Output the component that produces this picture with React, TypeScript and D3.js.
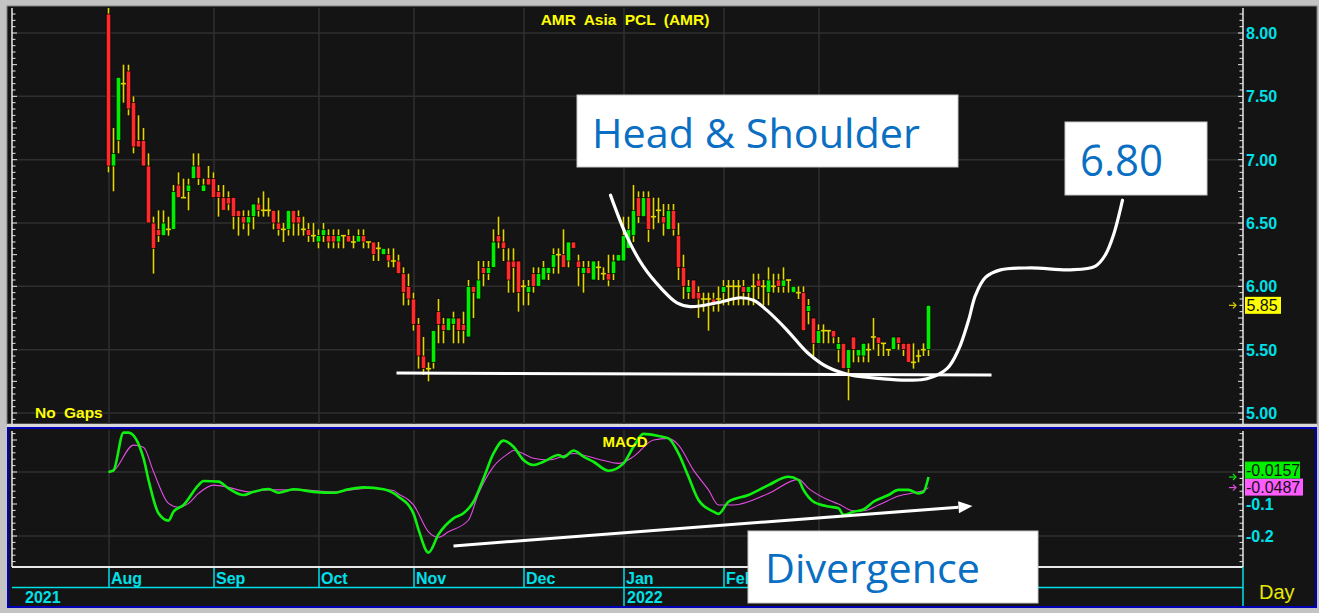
import React from 'react';
import * as d3 from 'd3';

const W = 1319;
const H = 613;

// Daily OHLC, AMR Asia PCL, Aug 2021 – Mar 2022 (165 sessions)
const opens = [
  8.15, 6.95, 7.15, 7.6, 7.7, 7.45, 7.15, 7.15, 6.95, 6.5,
  6.45, 6.4, 6.45, 6.45, 6.8, 6.7, 6.75, 6.85, 6.95, 6.75,
  6.85, 6.85, 6.75, 6.7, 6.7, 6.7, 6.6, 6.55, 6.5, 6.55,
  6.65, 6.6, 6.6, 6.6, 6.5, 6.45, 6.45, 6.6, 6.55, 6.45,
  6.45, 6.4, 6.35, 6.4, 6.4, 6.4, 6.35, 6.4, 6.4, 6.35,
  6.35, 6.4, 6.35, 6.35, 6.3, 6.25, 6.25, 6.2, 6.2, 6.1,
  6.0, 5.9, 5.7, 5.45, 5.35, 5.4, 5.8, 5.7, 5.65, 5.7,
  5.75, 5.7, 5.6, 6.0, 5.9, 6.15, 6.1, 6.15, 6.4, 6.35,
  6.2, 6.2, 6.2, 6.0, 5.95, 6.1, 6.0, 6.05, 6.1, 6.15,
  6.25, 6.25, 6.2, 6.35, 6.2, 6.1, 6.15, 6.05, 6.15, 6.1,
  6.1, 6.1, 6.2, 6.2, 6.3, 6.4, 6.7, 6.55, 6.7, 6.55,
  6.6, 6.55, 6.45, 6.6, 6.4, 6.15, 5.95, 6.05, 5.95, 5.9,
  5.9, 5.9, 5.9, 5.95, 6.0, 6.0, 6.0, 6.0, 5.95, 6.0,
  6.05, 6.0, 5.95, 6.0, 6.05, 6.0, 6.05, 5.95, 5.95, 5.95,
  5.8, 5.75, 5.55, 5.65, 5.65, 5.65, 5.5, 5.55, 5.35, 5.6,
  5.45, 5.45, 5.5, 5.6, 5.6, 5.55, 5.5, 5.5, 5.6, 5.55,
  5.55, 5.4, 5.45, 5.5, 5.5,
];
const highs = [
  8.2, 7.25, 7.65, 7.75, 7.75, 7.5, 7.35, 7.25, 7.05, 6.55,
  6.6, 6.6, 6.55, 6.8, 6.9, 6.85, 6.85, 7.05, 7.05, 6.85,
  6.95, 6.9, 6.8, 6.8, 6.75, 6.7, 6.6, 6.6, 6.6, 6.65,
  6.7, 6.75, 6.7, 6.6, 6.6, 6.5, 6.6, 6.6, 6.6, 6.55,
  6.5, 6.5, 6.45, 6.5, 6.45, 6.45, 6.45, 6.4, 6.45, 6.4,
  6.45, 6.45, 6.35, 6.35, 6.35, 6.3, 6.3, 6.3, 6.25, 6.15,
  6.1, 5.95, 5.75, 5.6, 5.4, 5.65, 5.9, 5.75, 5.75, 5.8,
  5.75, 5.8, 6.05, 6.0, 6.2, 6.2, 6.2, 6.45, 6.55, 6.45,
  6.3, 6.3, 6.2, 6.05, 6.05, 6.15, 6.15, 6.2, 6.15, 6.3,
  6.3, 6.45, 6.35, 6.35, 6.25, 6.2, 6.2, 6.2, 6.2, 6.15,
  6.25, 6.25, 6.25, 6.55, 6.55, 6.8, 6.75, 6.75, 6.75, 6.7,
  6.7, 6.65, 6.65, 6.65, 6.5, 6.25, 6.05, 6.05, 6.0, 5.95,
  5.95, 5.95, 6.0, 6.05, 6.05, 6.05, 6.05, 6.05, 6.0, 6.1,
  6.1, 6.05, 6.15, 6.1, 6.1, 6.15, 6.05, 6.0, 6.0, 6.0,
  5.9, 5.75, 5.7, 5.7, 5.65, 5.65, 5.6, 5.55, 5.5, 5.6,
  5.5, 5.55, 5.55, 5.75, 5.6, 5.55, 5.5, 5.6, 5.6, 5.55,
  5.55, 5.55, 5.5, 5.55, 5.85,
];
const lows = [
  6.9, 6.75, 7.05, 7.45, 7.35, 7.05, 7.1, 6.95, 6.5, 6.1,
  6.35, 6.4, 6.4, 6.45, 6.7, 6.7, 6.6, 6.85, 6.8, 6.75,
  6.8, 6.7, 6.55, 6.6, 6.6, 6.45, 6.4, 6.45, 6.4, 6.45,
  6.55, 6.55, 6.55, 6.45, 6.4, 6.35, 6.4, 6.4, 6.4, 6.4,
  6.35, 6.35, 6.3, 6.35, 6.3, 6.3, 6.3, 6.3, 6.35, 6.3,
  6.35, 6.3, 6.3, 6.2, 6.2, 6.25, 6.15, 6.15, 6.1, 5.85,
  5.85, 5.65, 5.35, 5.3, 5.25, 5.35, 5.55, 5.55, 5.65, 5.55,
  5.55, 5.55, 5.6, 5.75, 5.9, 6.0, 6.05, 6.15, 6.3, 6.2,
  5.95, 5.95, 5.8, 5.85, 5.85, 5.95, 6.0, 6.05, 6.05, 6.1,
  6.1, 6.15, 6.15, 6.3, 6.0, 5.95, 6.1, 6.05, 6.05, 6.05,
  6.0, 6.05, 6.2, 6.2, 6.3, 6.35, 6.5, 6.55, 6.35, 6.45,
  6.5, 6.4, 6.45, 6.4, 6.05, 5.9, 5.9, 5.9, 5.75, 5.8,
  5.65, 5.8, 5.8, 5.85, 5.85, 5.85, 5.85, 5.85, 5.85, 5.85,
  5.9, 5.85, 5.85, 5.95, 5.95, 5.95, 5.95, 5.95, 5.9, 5.65,
  5.7, 5.45, 5.55, 5.55, 5.55, 5.55, 5.4, 5.35, 5.1, 5.4,
  5.4, 5.4, 5.4, 5.5, 5.45, 5.45, 5.45, 5.5, 5.5, 5.45,
  5.4, 5.35, 5.4, 5.45, 5.45,
];
const closes = [
  6.95, 7.05, 7.65, 7.6, 7.4, 7.1, 7.1, 6.95, 6.5, 6.3,
  6.4, 6.5, 6.45, 6.75, 6.7, 6.7, 6.8, 6.95, 6.85, 6.8,
  6.8, 6.7, 6.7, 6.6, 6.65, 6.55, 6.55, 6.5, 6.55, 6.65,
  6.6, 6.6, 6.6, 6.5, 6.45, 6.45, 6.6, 6.5, 6.5, 6.45,
  6.4, 6.4, 6.4, 6.45, 6.35, 6.35, 6.4, 6.4, 6.35, 6.35,
  6.4, 6.35, 6.35, 6.25, 6.3, 6.3, 6.2, 6.2, 6.1, 5.95,
  5.9, 5.7, 5.45, 5.35, 5.35, 5.65, 5.7, 5.65, 5.75, 5.75,
  5.65, 5.65, 6.0, 5.95, 6.05, 6.1, 6.15, 6.35, 6.35, 6.3,
  6.05, 6.15, 5.95, 6.0, 6.0, 6.0, 6.1, 6.15, 6.15, 6.25,
  6.25, 6.15, 6.35, 6.3, 6.15, 6.15, 6.1, 6.2, 6.15, 6.1,
  6.05, 6.2, 6.25, 6.4, 6.45, 6.6, 6.55, 6.7, 6.45, 6.55,
  6.6, 6.5, 6.6, 6.45, 6.15, 6.0, 6.0, 5.9, 5.9, 5.9,
  5.9, 5.85, 5.9, 6.0, 6.0, 6.0, 6.0, 5.95, 6.0, 6.0,
  6.0, 6.0, 6.05, 6.0, 6.0, 6.05, 6.05, 6.0, 5.95, 5.65,
  5.85, 5.55, 5.65, 5.65, 5.65, 5.6, 5.55, 5.35, 5.5, 5.5,
  5.5, 5.55, 5.5, 5.6, 5.55, 5.55, 5.5, 5.6, 5.55, 5.5,
  5.4, 5.4, 5.45, 5.5, 5.85,
];

// MACD (12,26) and its 9-period signal, read at session indices
const macdIdx = [0, 1, 3, 4, 7, 8, 10, 12, 13, 15, 18, 19, 22, 24, 27, 29, 32, 34, 37, 41, 45, 48, 51, 55, 58, 61, 62, 64, 66, 69, 71, 73, 75, 77, 79, 81, 83, 85, 87, 90, 91, 93, 95, 97, 100, 103, 105, 107, 110, 112, 114, 116, 118, 121, 122, 124, 128, 132, 136, 138, 139, 141, 142, 144, 146, 147, 149, 151, 153, 156, 158, 160, 162, 163, 164];
const macdVals = [0, 0.005, 0.123, 0.123, 0.043, -0.025, -0.129, -0.152, -0.124, -0.103, -0.041, -0.028, -0.03, -0.051, -0.072, -0.062, -0.053, -0.065, -0.054, -0.062, -0.065, -0.054, -0.048, -0.054, -0.077, -0.13, -0.18, -0.252, -0.195, -0.145, -0.129, -0.093, -0.02, 0.058, 0.098, 0.079, 0.0375, 0.022, 0.032, 0.053, 0.046, 0.067, 0.048, 0.032, 0.004, 0.027, 0.079, 0.119, 0.1125, 0.105, 0.058, -0.015, -0.0875, -0.124, -0.131, -0.093, -0.072, -0.041, -0.015, -0.025, -0.056, -0.093, -0.1, -0.108, -0.113, -0.134, -0.124, -0.117, -0.093, -0.072, -0.056, -0.056, -0.067, -0.062, -0.0157];
const signalIdx = [0, 1, 5, 7, 9, 12, 14, 16, 18, 21, 24, 28, 32, 38, 45, 52, 57, 58, 60, 61, 64, 66, 68, 72, 74, 77, 80, 81, 85, 88, 93, 98, 102, 105, 109, 112, 114, 117, 120, 122, 125, 132, 138, 140, 144, 146, 149, 151, 154, 158, 162, 163, 164];
const signalVals = [0, 0.004, 0.084, 0.077, 0.001, -0.098, -0.11, -0.098, -0.067, -0.041, -0.048, -0.062, -0.056, -0.056, -0.062, -0.051, -0.058, -0.069, -0.0875, -0.103, -0.187, -0.204, -0.187, -0.15, -0.067, 0.017, 0.058, 0.067, 0.043, 0.0375, 0.058, 0.04, 0.027, 0.048, 0.1, 0.105, 0.084, 0.006, -0.056, -0.103, -0.103, -0.067, -0.023, -0.051, -0.0875, -0.1, -0.121, -0.121, -0.103, -0.075, -0.062, -0.058, -0.0487];

// Time axis: month gridlines; labels for the months left uncovered by the callout
const monthStarts = [0, 21, 42, 61, 83, 103, 123, 142];
const monthLabels = ['Aug', 'Sep', 'Oct', 'Nov', 'Dec', 'Jan', 'Feb'];
const yearLabels = ['2021', '2022'];

// Value axes
const priceTicks = [5.0, 5.5, 6.0, 6.5, 7.0, 7.5, 8.0];
const macdTickLabels = [-0.1, -0.2];
const macdGrid = [0, -0.2];

// Hand-drawn pattern sketch (session index, price)
const necklinePts: [number, number][] = [[57.6, 5.315], [176.6, 5.3]];
const patternPts: [number, number][] = [
  [100.4, 6.72], [103.7, 6.39], [107, 6.155], [110.4, 5.99], [113.7, 5.87], [116.4, 5.84],
  [121.7, 5.87], [126.4, 5.91], [129, 5.89], [131.7, 5.81], [135.7, 5.655], [139.7, 5.48],
  [143.7, 5.365], [148.4, 5.3], [155, 5.27], [159.7, 5.26], [163.7, 5.27], [167.7, 5.35],
  [170, 5.5], [172, 5.73], [173.4, 5.93], [175.4, 6.07], [178.4, 6.13], [184.4, 6.145],
  [192.4, 6.13], [197.4, 6.16], [199.4, 6.25], [201, 6.405], [202.8, 6.68],
];
// Divergence arrow in MACD space (session index, value)
const divergencePts: [number, number][] = [[69, -0.231], [172.8, -0.1065]];

const RED = '#ff2a2a';
const GREEN = '#00ee00';
const WICK = '#e2d600';
const CYAN = '#00e0e8';
const YELLOW = '#ffff00';
const BG = '#141414';
const GRID = '#2f2f2f';
const AXIS_FONT = '"Liberation Sans", Arial, sans-serif';
const NOTE_FONT = '"Open Sans", "Noto Sans", sans-serif';
const NOTE_BLUE = '#0a6fc2';

const x = d3.scaleLinear().domain([0, 164]).range([108.5, 928.5]);
const yP = d3.scaleLinear().domain([5, 8]).range([413, 33]);
const yM = d3.scaleLinear().domain([-0.2, 0]).range([536, 472]);

const AXIS_L = 12;
const AXIS_R = 1243;

export default function App() {
  const macdData = macdIdx.map((i, k) => [i, macdVals[k]] as [number, number]);
  const signalData = signalIdx.map((i, k) => [i, signalVals[k]] as [number, number]);
  const mLine = d3.line<[number, number]>().x(d => x(d[0])).y(d => yM(d[1])).curve(d3.curveMonotoneX);
  const pLine = d3.line<[number, number]>().x(d => x(d[0])).y(d => yP(d[1])).curve(d3.curveCatmullRom.alpha(0.5));
  const straight = d3.line<[number, number]>().x(d => x(d[0])).y(d => yP(d[1]));

  const gridXs = monthStarts.map(i => x(i) + 0.5);

  // minor ticks
  const priceMinor = d3.range(98, 165).map(k => +(k * 0.05).toFixed(2)).filter(v => yP(v) >= 8 && yP(v) <= 423);
  const macdMinor = d3.range(-15, 7).map(k => +(k * 0.02).toFixed(2)).filter(v => yM(v) >= 431 && yM(v) <= 566);

  const last = closes.length - 1;
  const lastClose = closes[last];
  const lastMacd = macdVals[macdVals.length - 1];
  const lastSignal = signalVals[signalVals.length - 1];

  const sigBoxY = yM(lastSignal) - 9;
  const macdBoxY = sigBoxY - 17;

  const [a0, a1] = divergencePts;
  const ax0 = x(a0[0]), ay0 = yM(a0[1]), ax1 = x(a1[0]), ay1 = yM(a1[1]);
  const ang = Math.atan2(ay1 - ay0, ax1 - ax0);
  const headLen = 14, headW = 6;
  const bx = ax1 - headLen * Math.cos(ang), by = ay1 - headLen * Math.sin(ang);
  const head = `M${ax1},${ay1} L${bx - headW * Math.sin(ang)},${by + headW * Math.cos(ang)} L${bx + headW * Math.sin(ang)},${by - headW * Math.cos(ang)} Z`;

  const arrow = (xx: number, yy: number, color: string) => (
    <g stroke={color} strokeWidth={1.2} fill="none">
      <line x1={xx - 6} x2={xx + 1} y1={yy} y2={yy} />
      <polyline points={`${xx - 2},${yy - 3} ${xx + 1},${yy} ${xx - 2},${yy + 3}`} />
    </g>
  );

  return (
    <svg width={W} height={H} style={{ position: 'absolute', left: 0, top: 0, display: 'block' }}>
      <defs>
        <clipPath id="pricePlot"><rect x={AXIS_L} y={8} width={AXIS_R - AXIS_L} height={416} /></clipPath>
        <clipPath id="macdPlot"><rect x={AXIS_L} y={430} width={AXIS_R - AXIS_L} height={137} /></clipPath>
      </defs>
      <rect x={0} y={0} width={W} height={H} fill="#c3c3c3" />

      {/* price panel */}
      <rect x={7} y={6} width={1310} height={418} fill={BG} stroke="#808080" strokeWidth={1} />
      <g stroke={GRID} strokeWidth={1.5}>
        {priceTicks.map(v => <line key={v} x1={AXIS_L} x2={AXIS_R} y1={yP(v)} y2={yP(v)} />)}
        {gridXs.map((gx, k) => <line key={k} x1={gx} x2={gx} y1={8} y2={424} />)}
      </g>
      <g clipPath="url(#pricePlot)">
        {closes.map((c, i) => {
          const o = opens[i];
          const cx = x(i);
          const top = yP(Math.max(o, c));
          const bot = yP(Math.min(o, c));
          return (
            <g key={i}>
              <line x1={cx} x2={cx} y1={yP(highs[i])} y2={yP(lows[i])} stroke="#000" strokeWidth={3.4} />
              <line x1={cx} x2={cx} y1={yP(highs[i])} y2={yP(lows[i])} stroke={WICK} strokeWidth={1.7} />
              {o === c ? (
                <line x1={cx - 2.6} x2={cx + 2.6} y1={top} y2={top} stroke={WICK} strokeWidth={1.6} />
              ) : (
                <rect x={cx - 2.3} y={top} width={4.6} height={Math.max(1, bot - top)} fill={c > o ? GREEN : RED} stroke="#000" strokeWidth={0.7} />
              )}
            </g>
          );
        })}
        <path d={straight(necklinePts) || ''} stroke="#fff" strokeWidth={3} fill="none" />
      </g>
      <path d={pLine(patternPts) || ''} stroke="#fff" strokeWidth={3.2} fill="none" strokeLinecap="round" />

      {/* price axes */}
      <g stroke="#e8e8e8" strokeWidth={1}>
        <line x1={AXIS_L} x2={AXIS_L} y1={8} y2={424} strokeWidth={1.5} />
        <line x1={AXIS_R} x2={AXIS_R} y1={8} y2={424} strokeWidth={1.5} />
        {priceMinor.map(v => {
          const major = Math.abs(v * 4 - Math.round(v * 4)) < 1e-6;
          return (
            <g key={v}>
              <line x1={AXIS_L} x2={AXIS_L + (major ? 5 : 3.5)} y1={yP(v)} y2={yP(v)} />
              <line x1={AXIS_R - (major ? 5 : 3.5)} x2={AXIS_R} y1={yP(v)} y2={yP(v)} />
            </g>
          );
        })}
      </g>
      <g fontFamily={AXIS_FONT} fontWeight="bold" fontSize={16} fill={CYAN}>
        {priceTicks.map(v => (
          <text key={v} x={AXIS_R + 3} y={yP(v) + 6}>{v.toFixed(2)}</text>
        ))}
      </g>
      <rect x={AXIS_R + 2} y={yP(lastClose) - 8.5} width={36} height={17} fill={YELLOW} />
      <text x={AXIS_R + 3.5} y={yP(lastClose) + 6} fontFamily={AXIS_FONT} fontSize={16} fill="#111">{lastClose.toFixed(2)}</text>
      {arrow(AXIS_R - 8, yP(lastClose), '#e0d000')}

      <text x={625} y={25} textAnchor="middle" fontFamily={AXIS_FONT} fontWeight="bold" fontSize={15.5} wordSpacing={4} fill={YELLOW}>AMR Asia PCL (AMR)</text>
      <text x={35} y={418} fontFamily={AXIS_FONT} fontWeight="bold" fontSize={15.5} wordSpacing={4} fill={YELLOW}>No Gaps</text>

      {/* separator */}
      <rect x={7} y={424} width={1310} height={3} fill="#d8d8d8" />

      {/* MACD panel */}
      <rect x={8} y={428} width={1308} height={179} fill={BG} stroke="#0000b8" strokeWidth={2} />
      <g stroke={GRID} strokeWidth={1.5}>
        {macdGrid.map(v => <line key={v} x1={AXIS_L} x2={AXIS_R} y1={yM(v)} y2={yM(v)} />)}
        {gridXs.map((gx, k) => <line key={k} x1={gx} x2={gx} y1={430} y2={567} />)}
      </g>
      <g clipPath="url(#macdPlot)">
        <path d={mLine(signalData) || ''} stroke="#e24ce2" strokeWidth={1.1} fill="none" />
        <path d={mLine(macdData) || ''} stroke="#10f010" strokeWidth={2.6} fill="none" strokeLinejoin="round" />
      </g>
      <text x={625} y={447} textAnchor="middle" fontFamily={AXIS_FONT} fontWeight="bold" fontSize={15} fill={YELLOW}>MACD</text>
      <g stroke="#e8e8e8" strokeWidth={1}>
        <line x1={AXIS_L} x2={AXIS_L} y1={431} y2={567} strokeWidth={1.5} />
        <line x1={AXIS_R} x2={AXIS_R} y1={431} y2={567} strokeWidth={1.5} />
        {macdMinor.map(v => {
          const major = Math.abs(v * 10 - Math.round(v * 10)) < 1e-6;
          return (
            <g key={v}>
              <line x1={AXIS_L} x2={AXIS_L + (major ? 5 : 3.5)} y1={yM(v)} y2={yM(v)} />
              <line x1={AXIS_R - (major ? 5 : 3.5)} x2={AXIS_R} y1={yM(v)} y2={yM(v)} />
            </g>
          );
        })}
        <line x1={AXIS_L} x2={AXIS_R} y1={567} y2={567} strokeWidth={2} />
      </g>
      <g fontFamily={AXIS_FONT} fontWeight="bold" fontSize={16} fill={CYAN}>
        {macdTickLabels.map(v => (
          <text key={v} x={AXIS_R + 3} y={yM(v) + 6}>{v.toFixed(1)}</text>
        ))}
      </g>
      <rect x={AXIS_R + 2} y={sigBoxY} width={58} height={17} fill="#ff5cff" />
      <text x={AXIS_R + 3} y={sigBoxY + 14.5} fontFamily={AXIS_FONT} fontSize={16} fill="#111">{lastSignal.toFixed(4)}</text>
      <rect x={AXIS_R + 2} y={macdBoxY} width={55} height={17} fill="#00f000" />
      <text x={AXIS_R + 3} y={macdBoxY + 14.5} fontFamily={AXIS_FONT} fontSize={16} fill="#111">{lastMacd.toFixed(4)}</text>
      {arrow(AXIS_R - 8, yM(lastMacd), '#10e010')}
      {arrow(AXIS_R - 8, yM(lastSignal), '#e24ce2')}

      {/* time axis */}
      <g stroke={CYAN} strokeWidth={1.5}>
        {gridXs.map((gx, k) => <line key={k} x1={gx} x2={gx} y1={568} y2={587} />)}
        <line x1={AXIS_L} x2={AXIS_R} y1={587.5} y2={587.5} />
        <line x1={gridXs[5]} x2={gridXs[5]} y1={588} y2={606} />
        <line x1={AXIS_R} x2={AXIS_R} y1={567} y2={606} />
      </g>
      <g fontFamily={AXIS_FONT} fontWeight="bold" fontSize={16} fill={CYAN}>
        {monthLabels.map((m, k) => <text key={m} x={gridXs[k] + 2} y={584}>{m}</text>)}
        <text x={25} y={603}>{yearLabels[0]}</text>
        <text x={gridXs[5] + 3} y={603}>{yearLabels[1]}</text>
      </g>
      <text x={1259} y={599} fontFamily={AXIS_FONT} fontSize={20} fill="#e8e800">Day</text>

      {/* divergence arrow */}
      <line x1={ax0} y1={ay0} x2={bx} y2={by} stroke="#fff" strokeWidth={3} />
      <path d={head} fill="#fff" />

      {/* callouts */}
      <g fontFamily={NOTE_FONT} fill={NOTE_BLUE}>
        <rect x={577} y={95} width={381} height={72} fill="#fff" stroke="#c8c8c8" />
        <text x={592} y={148} fontSize={41} textLength={328} lengthAdjust="spacingAndGlyphs">Head &amp; Shoulder</text>
        <rect x={1065} y={122} width={142} height={73} fill="#fff" stroke="#c8c8c8" />
        <text x={1080} y={176} fontSize={44} textLength={83} lengthAdjust="spacingAndGlyphs">6.80</text>
        <rect x={748} y={531} width={290} height={72} fill="#fff" stroke="#c8c8c8" />
        <text x={765} y={583} fontSize={41} textLength={215} lengthAdjust="spacingAndGlyphs">Divergence</text>
      </g>
    </svg>
  );
}
